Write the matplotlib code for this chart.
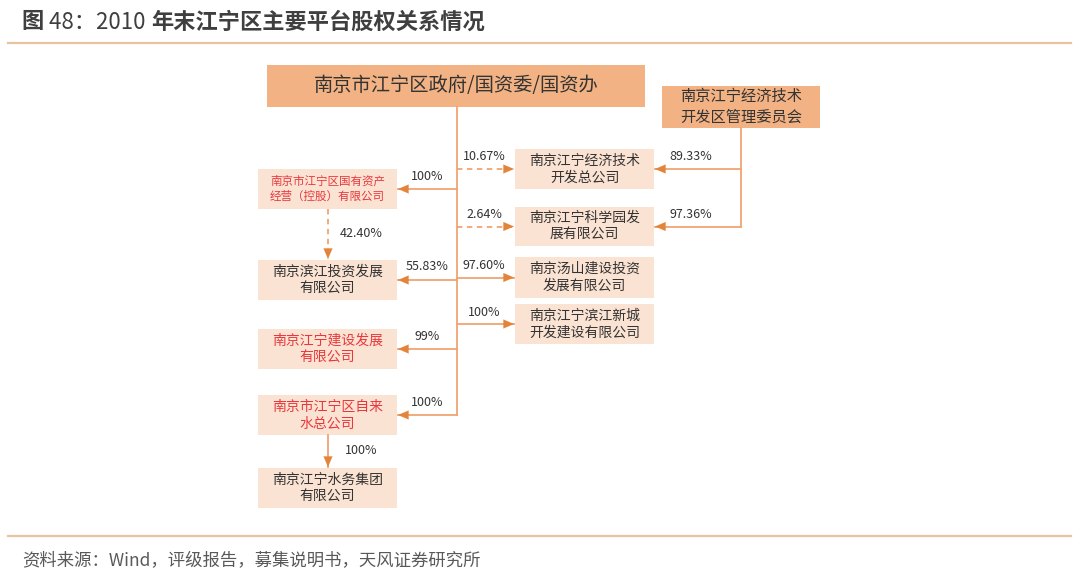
import matplotlib
matplotlib.use("Agg")
import matplotlib.pyplot as plt
from matplotlib.patches import Rectangle

plt.rcParams['font.family'] = ['Noto Sans CJK SC', 'DejaVu Sans']

# ---- chart content ----
# title is split so the figure number can be set in regular weight
title_parts = ["图 ", "48：2010 ", "年末江宁区主要平台股权关系情况"]
title_bold = [True, False, True]
source = "资料来源：Wind，评级报告，募集说明书，天风证券研究所"

gov_name = "南京市江宁区政府/国资委/国资办"
mgmt_name = "南京江宁经济技术\n开发区管理委员会"

left_names = ["南京市江宁区国有资产\n经营（控股）有限公司",
              "南京滨江投资发展\n有限公司",
              "南京江宁建设发展\n有限公司",
              "南京市江宁区自来\n水总公司",
              "南京江宁水务集团\n有限公司"]
left_red = [True, False, True, True, False]

right_names = ["南京江宁经济技术\n开发总公司",
               "南京江宁科学园发\n展有限公司",
               "南京汤山建设投资\n发展有限公司",
               "南京江宁滨江新城\n开发建设有限公司"]

# government -> left boxes 0..3
gov_left_pct = ["100%", "55.83%", "99%", "100%"]
# government -> right boxes 0..3
gov_right_pct = ["10.67%", "2.64%", "97.60%", "100%"]
gov_right_dashed = [True, True, False, False]
# management committee -> right boxes 0..1
mgmt_right_pct = ["89.33%", "97.36%"]
# chained holdings between left boxes
chain_from = [0, 3]
chain_to = [1, 4]
chain_pct = ["42.40%", "100%"]
chain_dashed = [True, False]

# ---- layout (pixel coords) ----
W, H = 1080, 583
LX0, LX1 = 258, 397
RX0, RX1 = 515, 654
left_y = [(169, 209), (260, 300), (329, 369), (395, 435), (468, 508)]
right_y = [(149, 189), (207, 246), (257, 298), (304, 344)]
gov_box = (267, 645, 65, 107)
mgmt_box = (662, 820, 86, 128)
trunk_x = 457
mgmt_x = 741
chain_x = 328

LIGHT = "#fbe3d3"
DARK = "#f2b284"
LINE = "#f0a473"
HEAD = "#e3843a"
RED = "#e8383d"
TXT = "#333333"

fig = plt.figure(figsize=(W / 100, H / 100), dpi=100)
ax = fig.add_axes([0, 0, 1, 1])
ax.set_xlim(0, W)
ax.set_ylim(H, 0)
ax.axis("off")


def box(x0, x1, y0, y1, fc, text, color=TXT, size=10):
    ax.add_patch(Rectangle((x0, y0), x1 - x0, y1 - y0, fc=fc, ec="none", zorder=1))
    ax.text((x0 + x1) / 2, (y0 + y1) / 2, text, ha="center", va="center",
            color=color, fontsize=size, linespacing=1.25, zorder=3)


def arrow(x0, y0, x1, y1, dashed=False):
    # shaft
    ax.plot([x0, x1], [y0, y1], color=LINE, lw=1.3,
            ls=(0, (3, 2.5)) if dashed else "-", zorder=2)
    # head, drawn solid over the last few pixels
    dx, dy = x1 - x0, y1 - y0
    n = (dx * dx + dy * dy) ** 0.5
    sx, sy = x1 - dx / n * 12, y1 - dy / n * 12
    ax.annotate("", xy=(x1, y1), xytext=(sx, sy),
                arrowprops=dict(arrowstyle="-|>,head_length=0.75,head_width=0.32",
                                color=HEAD, lw=0.1, shrinkA=0, shrinkB=0),
                zorder=4)


def pct(x, y, s):
    ax.text(x, y, s, ha="center", va="center", color=TXT, fontsize=9, zorder=3)


# title, placed piece by piece
renderer = fig.canvas.get_renderer()
tx = 22
for part, bold in zip(title_parts, title_bold):
    t = ax.text(tx, 22, part, ha="left", va="center", fontsize=16,
                fontweight="bold" if bold else "normal", color="#3f3f3f")
    bb = t.get_window_extent(renderer)
    tx += bb.width * W / fig.bbox.width

ax.plot([8, 1071], [43, 43], color="#e9c39f", lw=1.6)
ax.plot([8, 1071], [536, 536], color="#e9c39f", lw=1.6)
ax.text(22, 561, source, ha="left", va="center", fontsize=12.5, color="#595959")

# parent boxes
box(gov_box[0], gov_box[1], gov_box[2], gov_box[3], DARK, gov_name, size=13.9)
box(mgmt_box[0], mgmt_box[1], mgmt_box[2], mgmt_box[3], DARK, mgmt_name, size=11)

# subsidiary boxes
for (y0, y1), name, red in zip(left_y, left_names, left_red):
    box(LX0, LX1, y0, y1, LIGHT, name, color=RED if red else TXT,
        size=8.3 if len(name) > 18 else 10)
for (y0, y1), name in zip(right_y, right_names):
    box(RX0, RX1, y0, y1, LIGHT, name)

# government trunk
left_c = [(a + b) / 2 for a, b in left_y]
right_c = [(a + b) / 2 for a, b in right_y]
ax.plot([trunk_x, trunk_x], [gov_box[3], left_c[3]], color=LINE, lw=1.3, zorder=2)

for i, s in enumerate(gov_left_pct):
    arrow(trunk_x, left_c[i], LX1 + 1, left_c[i])
    pct(427, left_c[i] - 13, s)

for i, s in enumerate(gov_right_pct):
    arrow(trunk_x, right_c[i], RX0 - 1, right_c[i], dashed=gov_right_dashed[i])
    pct(484, right_c[i] - 12, s)

# management committee
ax.plot([mgmt_x, mgmt_x], [mgmt_box[3], right_c[1]], color=LINE, lw=1.3, zorder=2)
for i, s in enumerate(mgmt_right_pct):
    arrow(mgmt_x, right_c[i], RX1 + 1, right_c[i])
    pct(691, right_c[i] - 12, s)

# chained holdings between left boxes
for f, t, s, d in zip(chain_from, chain_to, chain_pct, chain_dashed):
    arrow(chain_x, left_y[f][1], chain_x, left_y[t][0] - 1, dashed=d)
    pct(361, (left_y[f][1] + left_y[t][0]) / 2 - 1, s)

fig.savefig("out.png", dpi=100)
